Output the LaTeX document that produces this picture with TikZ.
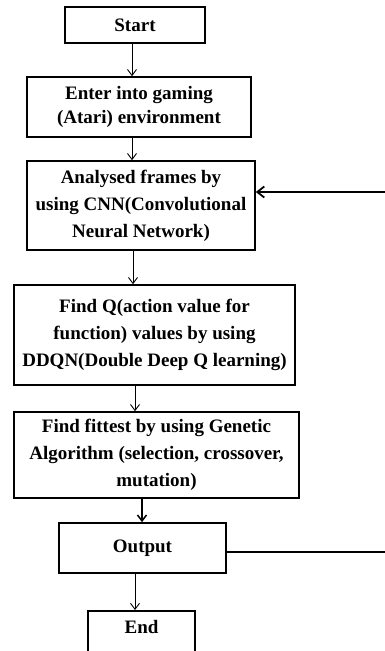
\documentclass[tikz,border=0pt]{standalone}
\usepackage{fontspec}
\setmainfont{Liberation Serif}
\usetikzlibrary{arrows.meta}

\begin{document}
\begin{tikzpicture}[x=1pt, y=-1pt,
    box/.style = {draw, line width=1.6pt, inner sep=0pt, align=center,
                  font=\bfseries\fontsize{19}{27}\selectfont},
    arr/.style = {-{Straight Barb[length=6pt,width=9pt]}, line width=0.9pt},
    back/.style = {-{Straight Barb[length=7pt,width=11pt]}, line width=1.8pt}]
  \useasboundingbox (0,0) rectangle (385,651);
  \clip (0,0) rectangle (385,651);

  \node[box, minimum width=140pt, minimum height=36pt] (start) at (135,25) {Start};
  \node[box, minimum width=224pt, minimum height=60pt] (enter) at (139,107)
    {Enter into gaming\\[-3pt] (Atari) environment};
  \node[box, minimum width=228pt, minimum height=89pt] (cnn) at (141,205.5)
    {Analysed frames by\\ using CNN(Convolutional\\ Neural Network)};
  \node[box, minimum width=281pt, minimum height=100pt] (ddqn) at (154.5,335)
    {Find Q(action value for\\ function) values by using\\ DDQN(Double Deep Q learning)};
  \node[box, minimum width=285pt, minimum height=86pt] (ga) at (156.5,455)
    {Find fittest by using Genetic\\ Algorithm (selection, crossover,\\ mutation)};
  \node[box, minimum width=167pt, minimum height=50pt] (output) at (142.5,548) {Output};
  \node[box, anchor=north, minimum width=107pt, text height=23pt, text depth=30pt]
    (stop) at (141.5,610) {End};

  \coordinate (loopin) at (385,192);
  \coordinate (loopout) at (385,552);

  \draw[arr] ([xshift=-3pt]start.south) -- ([xshift=-7pt]enter.north);
  \draw[arr] ([xshift=-7pt]enter.south) -- ([xshift=-9pt]cnn.north);
  \draw[arr] ([xshift=-8pt]cnn.south) -- ([xshift=-21.5pt]ddqn.north);
  \draw[arr] ([xshift=-19.5pt]ddqn.south) -- ([xshift=-21.5pt]ga.north);
  \draw[arr, line width=1.5pt] ([xshift=-14.5pt]ga.south) -- ([xshift=-0.5pt]output.north);
  \draw[arr] ([xshift=-7.5pt]output.south) -- ([xshift=-6.5pt]stop.north);

  \draw[back] (loopin) -- (loopin -| cnn.east);
  \draw[line width=1.8pt] (output.east |- loopout) -- (loopout);
\end{tikzpicture}
\end{document}
